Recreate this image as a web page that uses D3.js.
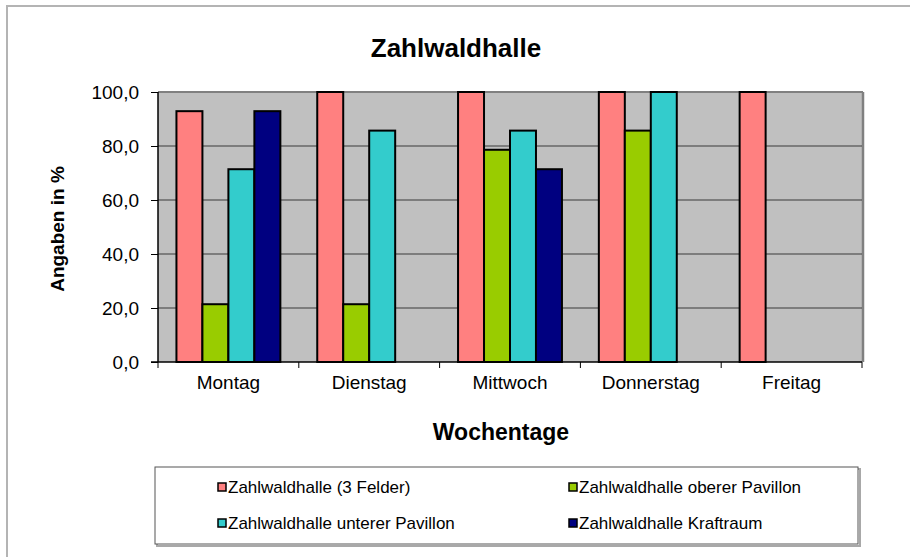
<!DOCTYPE html>
<html>
<head>
<meta charset="utf-8">
<script src="https://cdn.jsdelivr.net/npm/d3@7"></script>
<style>
body{margin:0;background:#fff;}
svg{display:block;font-family:"Liberation Sans",Arial,sans-serif;}
</style>
</head>
<body>
<div id="chart"></div>
<script>
const days = ["Montag","Dienstag","Mittwoch","Donnerstag","Freitag"];
const seriesNames = ["Zahlwaldhalle (3 Felder)","Zahlwaldhalle oberer Pavillon","Zahlwaldhalle unterer Pavillon","Zahlwaldhalle Kraftraum"];
const seriesColors = ["#FF8080","#99CC00","#33CCCC","#000080"];
const felder = [92.9,100,100,100,100];
const oberer = [21.4,21.4,78.6,85.7,0];
const unterer = [71.4,85.7,85.7,100,0];
const kraftraum = [92.9,0,71.4,0,0];
const yTicks = [0,20,40,60,80,100];

const values = [felder,oberer,unterer,kraftraum];

const width = 910, height = 557;
const plot = {left:158,right:862,top:92,bottom:362};

const svg = d3.select("#chart").append("svg")
  .attr("width",width).attr("height",height);

// outer frame
svg.append("rect").attr("x",7).attr("y",6).attr("width",width+10).attr("height",height+10)
  .attr("fill","#fff").attr("stroke","#b4b4b4").attr("stroke-width",2);

const x0 = d3.scaleBand().domain(days).range([plot.left,plot.right]);
const x1 = d3.scaleBand().domain(d3.range(4)).range([0,x0.bandwidth()]).paddingOuter(0.71);
const y = d3.scaleLinear().domain([0,100]).range([plot.bottom,plot.top]);

// plot background
svg.append("rect").attr("x",plot.left).attr("y",plot.top)
  .attr("width",plot.right-plot.left).attr("height",plot.bottom-plot.top)
  .attr("fill","#C0C0C0");
svg.append("line").attr("x1",plot.left).attr("x2",plot.right+1).attr("y1",plot.top).attr("y2",plot.top)
  .attr("stroke","#808080").attr("stroke-width",2);
svg.append("line").attr("x1",plot.right+1).attr("x2",plot.right+1).attr("y1",plot.top).attr("y2",plot.bottom)
  .attr("stroke","#808080").attr("stroke-width",2.5);

// gridlines
svg.append("g").selectAll("line").data(yTicks.slice(1,-1)).join("line")
  .attr("x1",plot.left).attr("x2",plot.right)
  .attr("y1",d=>y(d)).attr("y2",d=>y(d))
  .attr("stroke","#3a3a3a").attr("stroke-width",1);

// bars
const flat = [];
days.forEach((d,i)=>values.forEach((s,j)=>{ if(s[i]>0) flat.push({day:d,s:j,v:s[i]}); }));
svg.append("g").selectAll("rect").data(flat).join("rect")
  .attr("x",d=>x0(d.day)+x1(d.s))
  .attr("y",d=>y(d.v))
  .attr("width",x1.bandwidth())
  .attr("height",d=>y(0)-y(d.v))
  .attr("fill",d=>seriesColors[d.s])
  .attr("stroke","#000").attr("stroke-width",2);

// axes
const yAxis = svg.append("g").attr("transform",`translate(${plot.left},0)`)
  .call(d3.axisLeft(y).tickValues(yTicks).tickSize(7).tickPadding(12)
    .tickFormat(d=>d3.format(".1f")(d).replace(".",",")));
yAxis.select(".domain").attr("stroke","#000").attr("stroke-width",1.5).attr("d",`M0,${plot.top}V${plot.bottom}`);
yAxis.selectAll("text").attr("font-size",19).attr("fill","#000");

const xAxis = svg.append("g").attr("transform",`translate(0,${plot.bottom})`)
  .call(d3.axisBottom(x0).tickSize(0).tickPadding(14));
xAxis.select(".domain").attr("stroke","#000").attr("stroke-width",1.5).attr("d",`M${plot.left-7},0H${plot.right}`);
xAxis.selectAll("text").attr("font-size",19).attr("fill","#000");
svg.append("g").selectAll("line").data(days).join("line")
  .attr("x1",d=>x0(d)).attr("x2",d=>x0(d))
  .attr("y1",plot.bottom).attr("y2",plot.bottom+6)
  .attr("stroke","#000");
svg.append("line").attr("x1",plot.right).attr("x2",plot.right)
  .attr("y1",plot.bottom).attr("y2",plot.bottom+6).attr("stroke","#000");

// titles
svg.append("text").attr("x",456).attr("y",57).attr("text-anchor","middle")
  .attr("font-size",26).attr("font-weight","bold").text("Zahlwaldhalle");
svg.append("text").attr("x",501).attr("y",440).attr("text-anchor","middle")
  .attr("font-size",23).attr("font-weight","bold").text("Wochentage");
svg.append("text").attr("transform","translate(64,229) rotate(-90)").attr("text-anchor","middle")
  .attr("font-size",19).attr("font-weight","bold").text("Angaben in %");

// legend
svg.append("rect").attr("x",157).attr("y",469).attr("width",703).attr("height",77)
  .attr("fill","none").attr("stroke","#a8a8a8").attr("stroke-width",2);
svg.append("rect").attr("x",155).attr("y",467).attr("width",703).attr("height",77)
  .attr("fill","#fff").attr("stroke","#555").attr("stroke-width",1);
const legPos = [[218,487],[569,487],[218,523],[569,523]];
const leg = svg.append("g").selectAll("g").data(seriesNames).join("g")
  .attr("transform",(d,i)=>`translate(${legPos[i][0]},${legPos[i][1]})`);
leg.append("rect").attr("x",0).attr("y",-4).attr("width",8).attr("height",8)
  .attr("fill",(d,i)=>seriesColors[i]).attr("stroke","#000").attr("stroke-width",1.5);
leg.append("text").attr("x",10).attr("y",6).attr("font-size",17).text(d=>d);
</script>
</body>
</html>
